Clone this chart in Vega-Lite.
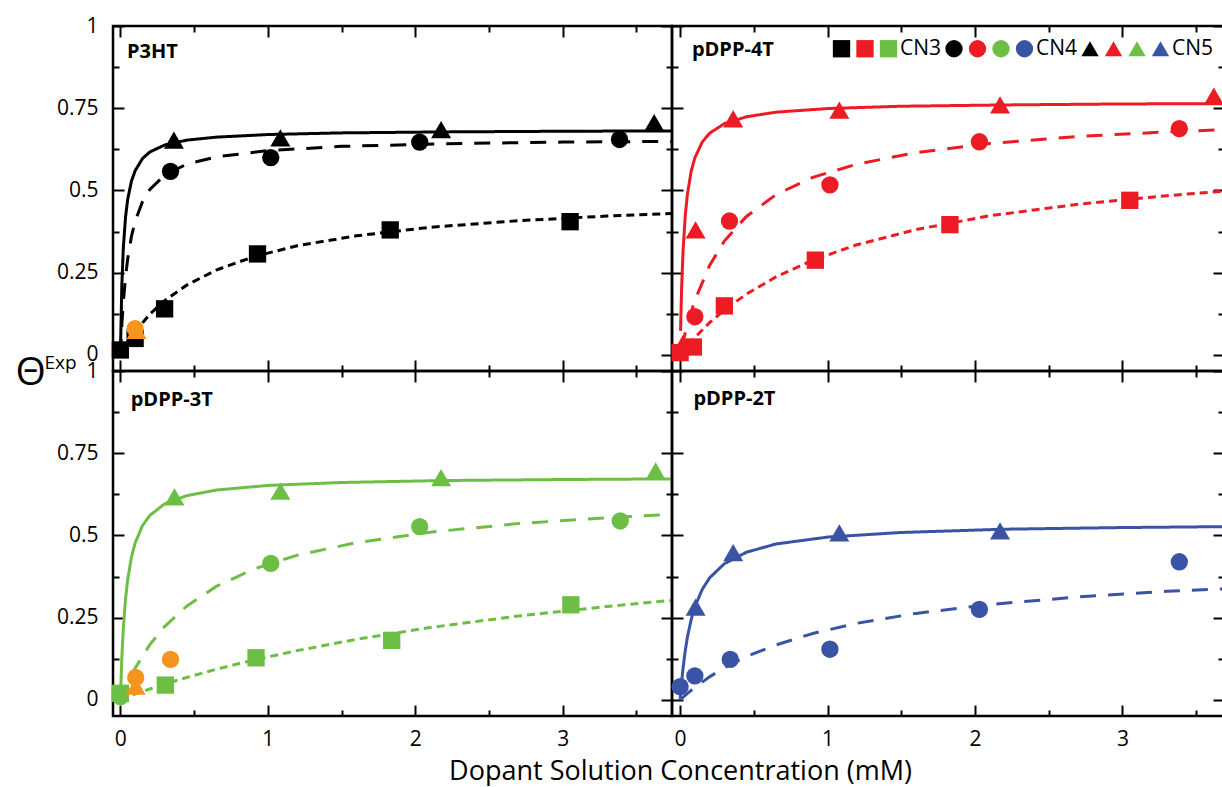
{
  "$schema": "https://vega.github.io/schema/vega-lite/v6.json",
  "background": "white",
  "padding": {"left": 13, "top": 13, "right": 0, "bottom": 0},
  "config": {
    "view": {"stroke": "black", "strokeWidth": 2.5},
    "font": "Open Sans",
    "axis": {"domain": false, "grid": false, "ticks": true, "tickColor": "black", "tickWidth": 2, "labelFont": "Open Sans", "labelFontSize": 21, "labelColor": "black", "labelOverlap": false, "labelFlush": false, "titleFont": "Open Sans", "titleColor": "black", "titleFontWeight": "normal"}
  },
  "datasets": {
    "curves": [
      {"p":"P3HT","cn":"CN5","c":0,"v":0},{"p":"P3HT","cn":"CN5","c":0.01,"v":0.213},{"p":"P3HT","cn":"CN5","c":0.02,"v":0.325},{"p":"P3HT","cn":"CN5","c":0.035,"v":0.419},{"p":"P3HT","cn":"CN5","c":0.05,"v":0.474},{"p":"P3HT","cn":"CN5","c":0.075,"v":0.528},{"p":"P3HT","cn":"CN5","c":0.1,"v":0.56},{"p":"P3HT","cn":"CN5","c":0.15,"v":0.597},{"p":"P3HT","cn":"CN5","c":0.2,"v":0.617},{"p":"P3HT","cn":"CN5","c":0.3,"v":0.638},{"p":"P3HT","cn":"CN5","c":0.45,"v":0.653},{"p":"P3HT","cn":"CN5","c":0.65,"v":0.662},{"p":"P3HT","cn":"CN5","c":1,"v":0.67},{"p":"P3HT","cn":"CN5","c":1.5,"v":0.675},{"p":"P3HT","cn":"CN5","c":2.2,"v":0.678},{"p":"P3HT","cn":"CN5","c":3,"v":0.68},{"p":"P3HT","cn":"CN5","c":3.75,"v":0.681},
      {"p":"P3HT","cn":"CN4","c":0,"v":0},{"p":"P3HT","cn":"CN4","c":0.01,"v":0.091},{"p":"P3HT","cn":"CN4","c":0.02,"v":0.16},{"p":"P3HT","cn":"CN4","c":0.035,"v":0.237},{"p":"P3HT","cn":"CN4","c":0.05,"v":0.293},{"p":"P3HT","cn":"CN4","c":0.075,"v":0.36},{"p":"P3HT","cn":"CN4","c":0.1,"v":0.406},{"p":"P3HT","cn":"CN4","c":0.15,"v":0.466},{"p":"P3HT","cn":"CN4","c":0.2,"v":0.503},{"p":"P3HT","cn":"CN4","c":0.3,"v":0.546},{"p":"P3HT","cn":"CN4","c":0.45,"v":0.58},{"p":"P3HT","cn":"CN4","c":0.65,"v":0.602},{"p":"P3HT","cn":"CN4","c":1,"v":0.621},{"p":"P3HT","cn":"CN4","c":1.5,"v":0.634},{"p":"P3HT","cn":"CN4","c":2.2,"v":0.642},{"p":"P3HT","cn":"CN4","c":3,"v":0.647},{"p":"P3HT","cn":"CN4","c":3.75,"v":0.649},
      {"p":"P3HT","cn":"CN3","c":0,"v":0},{"p":"P3HT","cn":"CN3","c":0.05,"v":0.038},{"p":"P3HT","cn":"CN3","c":0.1,"v":0.07},{"p":"P3HT","cn":"CN3","c":0.2,"v":0.124},{"p":"P3HT","cn":"CN3","c":0.3,"v":0.165},{"p":"P3HT","cn":"CN3","c":0.45,"v":0.212},{"p":"P3HT","cn":"CN3","c":0.65,"v":0.258},{"p":"P3HT","cn":"CN3","c":0.9,"v":0.298},{"p":"P3HT","cn":"CN3","c":1.2,"v":0.332},{"p":"P3HT","cn":"CN3","c":1.6,"v":0.362},{"p":"P3HT","cn":"CN3","c":2.1,"v":0.388},{"p":"P3HT","cn":"CN3","c":2.7,"v":0.408},{"p":"P3HT","cn":"CN3","c":3.3,"v":0.422},{"p":"P3HT","cn":"CN3","c":3.75,"v":0.43},
      {"p":"pDPP-4T","cn":"CN5","c":0.003,"v":0.073},{"p":"pDPP-4T","cn":"CN5","c":0.01,"v":0.2},{"p":"pDPP-4T","cn":"CN5","c":0.02,"v":0.317},{"p":"pDPP-4T","cn":"CN5","c":0.035,"v":0.424},{"p":"pDPP-4T","cn":"CN5","c":0.05,"v":0.49},{"p":"pDPP-4T","cn":"CN5","c":0.075,"v":0.558},{"p":"pDPP-4T","cn":"CN5","c":0.1,"v":0.599},{"p":"pDPP-4T","cn":"CN5","c":0.15,"v":0.647},{"p":"pDPP-4T","cn":"CN5","c":0.2,"v":0.674},{"p":"pDPP-4T","cn":"CN5","c":0.3,"v":0.703},{"p":"pDPP-4T","cn":"CN5","c":0.45,"v":0.724},{"p":"pDPP-4T","cn":"CN5","c":0.65,"v":0.738},{"p":"pDPP-4T","cn":"CN5","c":1,"v":0.749},{"p":"pDPP-4T","cn":"CN5","c":1.5,"v":0.756},{"p":"pDPP-4T","cn":"CN5","c":2.2,"v":0.76},{"p":"pDPP-4T","cn":"CN5","c":3,"v":0.763},{"p":"pDPP-4T","cn":"CN5","c":3.75,"v":0.764},
      {"p":"pDPP-4T","cn":"CN4","c":0.01,"v":0.021},{"p":"pDPP-4T","cn":"CN4","c":0.02,"v":0.04},{"p":"pDPP-4T","cn":"CN4","c":0.05,"v":0.094},{"p":"pDPP-4T","cn":"CN4","c":0.1,"v":0.166},{"p":"pDPP-4T","cn":"CN4","c":0.2,"v":0.272},{"p":"pDPP-4T","cn":"CN4","c":0.3,"v":0.346},{"p":"pDPP-4T","cn":"CN4","c":0.45,"v":0.421},{"p":"pDPP-4T","cn":"CN4","c":0.65,"v":0.487},{"p":"pDPP-4T","cn":"CN4","c":0.9,"v":0.54},{"p":"pDPP-4T","cn":"CN4","c":1.2,"v":0.58},{"p":"pDPP-4T","cn":"CN4","c":1.6,"v":0.615},{"p":"pDPP-4T","cn":"CN4","c":2.1,"v":0.643},{"p":"pDPP-4T","cn":"CN4","c":2.7,"v":0.664},{"p":"pDPP-4T","cn":"CN4","c":3.3,"v":0.678},{"p":"pDPP-4T","cn":"CN4","c":3.75,"v":0.686},
      {"p":"pDPP-4T","cn":"CN3","c":0,"v":0},{"p":"pDPP-4T","cn":"CN3","c":0.05,"v":0.028},{"p":"pDPP-4T","cn":"CN3","c":0.1,"v":0.053},{"p":"pDPP-4T","cn":"CN3","c":0.2,"v":0.098},{"p":"pDPP-4T","cn":"CN3","c":0.3,"v":0.136},{"p":"pDPP-4T","cn":"CN3","c":0.45,"v":0.185},{"p":"pDPP-4T","cn":"CN3","c":0.65,"v":0.237},{"p":"pDPP-4T","cn":"CN3","c":0.9,"v":0.288},{"p":"pDPP-4T","cn":"CN3","c":1.2,"v":0.335},{"p":"pDPP-4T","cn":"CN3","c":1.6,"v":0.381},{"p":"pDPP-4T","cn":"CN3","c":2.1,"v":0.423},{"p":"pDPP-4T","cn":"CN3","c":2.7,"v":0.458},{"p":"pDPP-4T","cn":"CN3","c":3.3,"v":0.484},{"p":"pDPP-4T","cn":"CN3","c":3.75,"v":0.5},
      {"p":"pDPP-3T","cn":"CN5","c":0,"v":0},{"p":"pDPP-3T","cn":"CN5","c":0.01,"v":0.129},{"p":"pDPP-3T","cn":"CN5","c":0.02,"v":0.217},{"p":"pDPP-3T","cn":"CN5","c":0.035,"v":0.307},{"p":"pDPP-3T","cn":"CN5","c":0.05,"v":0.367},{"p":"pDPP-3T","cn":"CN5","c":0.075,"v":0.434},{"p":"pDPP-3T","cn":"CN5","c":0.1,"v":0.477},{"p":"pDPP-3T","cn":"CN5","c":0.15,"v":0.53},{"p":"pDPP-3T","cn":"CN5","c":0.2,"v":0.561},{"p":"pDPP-3T","cn":"CN5","c":0.3,"v":0.596},{"p":"pDPP-3T","cn":"CN5","c":0.45,"v":0.621},{"p":"pDPP-3T","cn":"CN5","c":0.65,"v":0.638},{"p":"pDPP-3T","cn":"CN5","c":1,"v":0.652},{"p":"pDPP-3T","cn":"CN5","c":1.5,"v":0.661},{"p":"pDPP-3T","cn":"CN5","c":2.2,"v":0.667},{"p":"pDPP-3T","cn":"CN5","c":3,"v":0.67},{"p":"pDPP-3T","cn":"CN5","c":3.75,"v":0.672},
      {"p":"pDPP-3T","cn":"CN4","c":0,"v":0},{"p":"pDPP-3T","cn":"CN4","c":0.05,"v":0.052},{"p":"pDPP-3T","cn":"CN4","c":0.1,"v":0.096},{"p":"pDPP-3T","cn":"CN4","c":0.2,"v":0.168},{"p":"pDPP-3T","cn":"CN4","c":0.3,"v":0.223},{"p":"pDPP-3T","cn":"CN4","c":0.45,"v":0.285},{"p":"pDPP-3T","cn":"CN4","c":0.65,"v":0.345},{"p":"pDPP-3T","cn":"CN4","c":0.9,"v":0.397},{"p":"pDPP-3T","cn":"CN4","c":1.2,"v":0.44},{"p":"pDPP-3T","cn":"CN4","c":1.6,"v":0.478},{"p":"pDPP-3T","cn":"CN4","c":2.1,"v":0.51},{"p":"pDPP-3T","cn":"CN4","c":2.7,"v":0.536},{"p":"pDPP-3T","cn":"CN4","c":3.3,"v":0.554},{"p":"pDPP-3T","cn":"CN4","c":3.75,"v":0.564},
      {"p":"pDPP-3T","cn":"CN3","c":0,"v":0.003},{"p":"pDPP-3T","cn":"CN3","c":0.05,"v":0.01},{"p":"pDPP-3T","cn":"CN3","c":0.1,"v":0.018},{"p":"pDPP-3T","cn":"CN3","c":0.2,"v":0.033},{"p":"pDPP-3T","cn":"CN3","c":0.3,"v":0.048},{"p":"pDPP-3T","cn":"CN3","c":0.45,"v":0.068},{"p":"pDPP-3T","cn":"CN3","c":0.65,"v":0.093},{"p":"pDPP-3T","cn":"CN3","c":0.9,"v":0.121},{"p":"pDPP-3T","cn":"CN3","c":1.2,"v":0.15},{"p":"pDPP-3T","cn":"CN3","c":1.6,"v":0.184},{"p":"pDPP-3T","cn":"CN3","c":2.1,"v":0.22},{"p":"pDPP-3T","cn":"CN3","c":2.7,"v":0.255},{"p":"pDPP-3T","cn":"CN3","c":3.3,"v":0.284},{"p":"pDPP-3T","cn":"CN3","c":3.75,"v":0.303},
      {"p":"pDPP-2T","cn":"CN5","c":0,"v":0},{"p":"pDPP-2T","cn":"CN5","c":0.01,"v":0.054},{"p":"pDPP-2T","cn":"CN5","c":0.02,"v":0.097},{"p":"pDPP-2T","cn":"CN5","c":0.035,"v":0.15},{"p":"pDPP-2T","cn":"CN5","c":0.05,"v":0.192},{"p":"pDPP-2T","cn":"CN5","c":0.075,"v":0.244},{"p":"pDPP-2T","cn":"CN5","c":0.1,"v":0.283},{"p":"pDPP-2T","cn":"CN5","c":0.15,"v":0.336},{"p":"pDPP-2T","cn":"CN5","c":0.2,"v":0.371},{"p":"pDPP-2T","cn":"CN5","c":0.3,"v":0.414},{"p":"pDPP-2T","cn":"CN5","c":0.45,"v":0.449},{"p":"pDPP-2T","cn":"CN5","c":0.65,"v":0.474},{"p":"pDPP-2T","cn":"CN5","c":1,"v":0.495},{"p":"pDPP-2T","cn":"CN5","c":1.5,"v":0.509},{"p":"pDPP-2T","cn":"CN5","c":2.2,"v":0.519},{"p":"pDPP-2T","cn":"CN5","c":3,"v":0.524},{"p":"pDPP-2T","cn":"CN5","c":3.75,"v":0.527},
      {"p":"pDPP-2T","cn":"CN4","c":0,"v":0},{"p":"pDPP-2T","cn":"CN4","c":0.05,"v":0.02},{"p":"pDPP-2T","cn":"CN4","c":0.1,"v":0.038},{"p":"pDPP-2T","cn":"CN4","c":0.2,"v":0.07},{"p":"pDPP-2T","cn":"CN4","c":0.3,"v":0.098},{"p":"pDPP-2T","cn":"CN4","c":0.45,"v":0.132},{"p":"pDPP-2T","cn":"CN4","c":0.65,"v":0.167},{"p":"pDPP-2T","cn":"CN4","c":0.9,"v":0.202},{"p":"pDPP-2T","cn":"CN4","c":1.2,"v":0.233},{"p":"pDPP-2T","cn":"CN4","c":1.6,"v":0.263},{"p":"pDPP-2T","cn":"CN4","c":2.1,"v":0.29},{"p":"pDPP-2T","cn":"CN4","c":2.7,"v":0.313},{"p":"pDPP-2T","cn":"CN4","c":3.3,"v":0.33},{"p":"pDPP-2T","cn":"CN4","c":3.75,"v":0.339}
    ],
    "pts": [
      {"p":"P3HT","cn":"CN3","s":"P3HT CN3","c":0,"v":0.015},{"p":"P3HT","cn":"CN3","s":"P3HT CN3","c":0.1,"v":0.05},{"p":"P3HT","cn":"CN3","s":"P3HT CN3","c":0.3,"v":0.14},{"p":"P3HT","cn":"CN3","s":"P3HT CN3","c":0.93,"v":0.307},{"p":"P3HT","cn":"CN3","s":"P3HT CN3","c":1.83,"v":0.38},{"p":"P3HT","cn":"CN3","s":"P3HT CN3","c":3.05,"v":0.405},
      {"p":"P3HT","cn":"CN4","s":"P3HT CN4","c":0.34,"v":0.558},{"p":"P3HT","cn":"CN4","s":"P3HT CN4","c":1.02,"v":0.6},{"p":"P3HT","cn":"CN4","s":"P3HT CN4","c":2.03,"v":0.647},{"p":"P3HT","cn":"CN4","s":"P3HT CN4","c":3.385,"v":0.655},
      {"p":"P3HT","cn":"CN5","s":"P3HT CN5","c":0.363,"v":0.653},{"p":"P3HT","cn":"CN5","s":"P3HT CN5","c":1.085,"v":0.66},{"p":"P3HT","cn":"CN5","s":"P3HT CN5","c":2.175,"v":0.685},{"p":"P3HT","cn":"CN5","s":"P3HT CN5","c":3.62,"v":0.706},
      {"p":"P3HT","cn":"CN5","s":"Ref CN5","c":0.11,"v":0.075},{"p":"P3HT","cn":"CN4","s":"Ref CN4","c":0.1,"v":0.08},
      {"p":"pDPP-4T","cn":"CN5","s":"pDPP-4T CN5","c":0.02,"v":0.035},
      {"p":"pDPP-4T","cn":"CN3","s":"pDPP-4T CN3","c":0,"v":0.007},{"p":"pDPP-4T","cn":"CN3","s":"pDPP-4T CN3","c":0.09,"v":0.024},{"p":"pDPP-4T","cn":"CN3","s":"pDPP-4T CN3","c":0.3,"v":0.149},{"p":"pDPP-4T","cn":"CN3","s":"pDPP-4T CN3","c":0.917,"v":0.288},{"p":"pDPP-4T","cn":"CN3","s":"pDPP-4T CN3","c":1.83,"v":0.396},{"p":"pDPP-4T","cn":"CN3","s":"pDPP-4T CN3","c":3.05,"v":0.47},
      {"p":"pDPP-4T","cn":"CN4","s":"pDPP-4T CN4","c":0.1,"v":0.116},{"p":"pDPP-4T","cn":"CN4","s":"pDPP-4T CN4","c":0.335,"v":0.407},{"p":"pDPP-4T","cn":"CN4","s":"pDPP-4T CN4","c":1.016,"v":0.517},{"p":"pDPP-4T","cn":"CN4","s":"pDPP-4T CN4","c":2.03,"v":0.648},{"p":"pDPP-4T","cn":"CN4","s":"pDPP-4T CN4","c":3.386,"v":0.688},
      {"p":"pDPP-4T","cn":"CN5","s":"pDPP-4T CN5","c":0.105,"v":0.38},{"p":"pDPP-4T","cn":"CN5","s":"pDPP-4T CN5","c":0.36,"v":0.718},{"p":"pDPP-4T","cn":"CN5","s":"pDPP-4T CN5","c":1.08,"v":0.744},{"p":"pDPP-4T","cn":"CN5","s":"pDPP-4T CN5","c":2.17,"v":0.76},{"p":"pDPP-4T","cn":"CN5","s":"pDPP-4T CN5","c":3.62,"v":0.787},
      {"p":"pDPP-3T","cn":"CN4","s":"pDPP-3T CN4","c":0,"v":0.01},
      {"p":"pDPP-3T","cn":"CN3","s":"pDPP-3T CN3","c":0,"v":0.02},{"p":"pDPP-3T","cn":"CN3","s":"pDPP-3T CN3","c":0.305,"v":0.045},{"p":"pDPP-3T","cn":"CN3","s":"pDPP-3T CN3","c":0.92,"v":0.128},{"p":"pDPP-3T","cn":"CN3","s":"pDPP-3T CN3","c":1.84,"v":0.181},{"p":"pDPP-3T","cn":"CN3","s":"pDPP-3T CN3","c":3.055,"v":0.289},
      {"p":"pDPP-3T","cn":"CN4","s":"pDPP-3T CN4","c":1.02,"v":0.415},{"p":"pDPP-3T","cn":"CN4","s":"pDPP-3T CN4","c":2.03,"v":0.527},{"p":"pDPP-3T","cn":"CN4","s":"pDPP-3T CN4","c":3.39,"v":0.544},
      {"p":"pDPP-3T","cn":"CN5","s":"pDPP-3T CN5","c":0.367,"v":0.617},{"p":"pDPP-3T","cn":"CN5","s":"pDPP-3T CN5","c":1.085,"v":0.635},{"p":"pDPP-3T","cn":"CN5","s":"pDPP-3T CN5","c":2.175,"v":0.676},{"p":"pDPP-3T","cn":"CN5","s":"pDPP-3T CN5","c":3.63,"v":0.696},
      {"p":"pDPP-3T","cn":"CN5","s":"Ref CN5","c":0.104,"v":0.042},{"p":"pDPP-3T","cn":"CN4","s":"Ref CN4","c":0.104,"v":0.068},{"p":"pDPP-3T","cn":"CN4","s":"Ref CN4","c":0.34,"v":0.123},
      {"p":"pDPP-2T","cn":"CN4","s":"pDPP-2T CN4","c":0,"v":0.04},{"p":"pDPP-2T","cn":"CN4","s":"pDPP-2T CN4","c":0.1,"v":0.073},{"p":"pDPP-2T","cn":"CN4","s":"pDPP-2T CN4","c":0.34,"v":0.123},{"p":"pDPP-2T","cn":"CN4","s":"pDPP-2T CN4","c":1.016,"v":0.154},{"p":"pDPP-2T","cn":"CN4","s":"pDPP-2T CN4","c":2.03,"v":0.275},{"p":"pDPP-2T","cn":"CN4","s":"pDPP-2T CN4","c":3.386,"v":0.42},
      {"p":"pDPP-2T","cn":"CN5","s":"pDPP-2T CN5","c":0.105,"v":0.282},{"p":"pDPP-2T","cn":"CN5","s":"pDPP-2T CN5","c":0.36,"v":0.448},{"p":"pDPP-2T","cn":"CN5","s":"pDPP-2T CN5","c":1.08,"v":0.508},{"p":"pDPP-2T","cn":"CN5","s":"pDPP-2T CN5","c":2.17,"v":0.514}
    ]
  },
  "columns": 2,
  "spacing": 0,
  "bounds": "flush",
  "resolve": {"scale": {"fill": "independent", "shape": "independent"}},
  "concat": [
    {
      "width": 559, "height": 345,
      "layer": [
        {"data": {"name": "curves"}, "transform": [{"filter": "datum.p === 'P3HT'"}],
         "mark": {"type": "line", "strokeWidth": 3, "clip": true},
         "encoding": {
           "x": {"field": "c", "type": "quantitative", "scale": {"domain": [-0.05, 3.741], "nice": false, "zero": false},
                 "axis": {"orient": "bottom", "values": [0,0.5,1,1.5,2,2.5,3,3.5], "tickSize": {"condition": {"test": "datum.value % 1 === 0", "value": -11}, "value": -6}, "labels": false, "title": null}},
           "y": {"field": "v", "type": "quantitative", "scale": {"domain": [-0.049, 1], "nice": false, "zero": false},
                 "axis": {"orient": "left", "values": [0,0.125,0.25,0.375,0.5,0.625,0.75,0.875,1], "tickSize": {"condition": {"test": "datum.value % 0.25 === 0", "value": -11}, "value": -6}, "labels": true, "labelExpr": "datum.value % 0.25 === 0 ? format(datum.value, '~g') : ''", "labelPadding": 26,
                          "title": "Θ", "titleAngle": 0, "titleAlign": "left", "titleBaseline": "alphabetic", "titleX": -98, "titleY": 358, "titleFontSize": 39}},
           "stroke": {"field": "p", "type": "nominal", "scale": {"domain": ["P3HT","pDPP-4T","pDPP-3T","pDPP-2T"], "range": ["#000000","#ED1C24","#6CBE45","#3A53A4"]}, "legend": null},
           "strokeDash": {"field": "cn", "type": "nominal", "scale": {"domain": ["CN3","CN4","CN5"], "range": [[8,5],[16,12],[1,0]]}, "legend": null}
         }},
        {"data": {"name": "pts"}, "transform": [{"filter": "datum.p === 'P3HT'"}],
         "mark": {"type": "point", "filled": true, "opacity": 1, "strokeWidth": 0},
         "encoding": {
           "x": {"field": "c", "type": "quantitative", "scale": {"domain": [-0.05, 3.741], "nice": false, "zero": false},
                 "axis": {"orient": "top", "values": [0,0.5,1,1.5,2,2.5,3,3.5], "tickSize": {"condition": {"test": "datum.value % 1 === 0", "value": -11}, "value": -6}, "labels": false, "title": null}},
           "y": {"field": "v", "type": "quantitative", "scale": {"domain": [-0.049, 1], "nice": false, "zero": false},
                 "axis": {"orient": "right", "values": [0,0.125,0.25,0.375,0.5,0.625,0.75,0.875,1], "tickSize": {"condition": {"test": "datum.value % 0.25 === 0", "value": -11}, "value": -6}, "labels": false, "title": null}},
           "fill": {"field": "s", "type": "nominal", "scale": {"domain": ["P3HT CN3","pDPP-4T CN3","pDPP-3T CN3","P3HT CN4","pDPP-4T CN4","pDPP-3T CN4","pDPP-2T CN4","P3HT CN5","pDPP-4T CN5","pDPP-3T CN5","pDPP-2T CN5","Ref CN4","Ref CN5"], "range": ["#000000","#ED1C24","#6CBE45","#000000","#ED1C24","#6CBE45","#3A53A4","#000000","#ED1C24","#6CBE45","#3A53A4","#F7941D","#F7941D"]}, "legend": null},
           "shape": {"field": "s", "type": "nominal", "scale": {"domain": ["P3HT CN3","pDPP-4T CN3","pDPP-3T CN3","P3HT CN4","pDPP-4T CN4","pDPP-3T CN4","pDPP-2T CN4","P3HT CN5","pDPP-4T CN5","pDPP-3T CN5","pDPP-2T CN5","Ref CN4","Ref CN5"], "range": ["square","square","square","circle","circle","circle","circle","triangle-up","triangle-up","triangle-up","triangle-up","circle","triangle-up"]}, "legend": null},
           "size": {"condition": {"test": "datum.cn === 'CN5'", "value": 400}, "value": 300}
         }},
        {"data": {"values": [{"name": "P3HT"}]},
         "mark": {"type": "text", "align": "left", "baseline": "middle", "fontWeight": "bold", "fontSize": 20, "font": "Open Sans", "color": "black"},
         "encoding": {"text": {"field": "name"},
           "x": {"datum": 0.045, "type": "quantitative", "scale": {"domain": [-0.05, 3.741], "nice": false, "zero": false}, "axis": null},
           "y": {"datum": 0.922, "type": "quantitative", "scale": {"domain": [-0.049, 1], "nice": false, "zero": false}, "axis": null}}}
      ],
      "resolve": {"axis": {"x": "independent", "y": "independent"}}
    },
    {
      "width": 552, "height": 345,
      "layer": [
        {"data": {"name": "curves"}, "transform": [{"filter": "datum.p === 'pDPP-4T'"}],
         "mark": {"type": "line", "strokeWidth": 3, "clip": true},
         "encoding": {
           "x": {"field": "c", "type": "quantitative", "scale": {"domain": [-0.055, 3.689], "nice": false, "zero": false},
                 "axis": {"orient": "bottom", "values": [0,0.5,1,1.5,2,2.5,3,3.5], "tickSize": {"condition": {"test": "datum.value % 1 === 0", "value": -11}, "value": -6}, "labels": false, "title": null}},
           "y": {"field": "v", "type": "quantitative", "scale": {"domain": [-0.049, 1], "nice": false, "zero": false},
                 "axis": {"orient": "left", "values": [0,0.125,0.25,0.375,0.5,0.625,0.75,0.875,1], "tickSize": {"condition": {"test": "datum.value % 0.25 === 0", "value": -11}, "value": -6}, "labels": false, "title": null}},
           "stroke": {"field": "p", "type": "nominal", "scale": {"domain": ["P3HT","pDPP-4T","pDPP-3T","pDPP-2T"], "range": ["#000000","#ED1C24","#6CBE45","#3A53A4"]}, "legend": null},
           "strokeDash": {"field": "cn", "type": "nominal", "scale": {"domain": ["CN3","CN4","CN5"], "range": [[8,5],[16,12],[1,0]]}, "legend": null}
         }},
        {"data": {"name": "pts"}, "transform": [{"filter": "datum.p === 'pDPP-4T'"}],
         "mark": {"type": "point", "filled": true, "opacity": 1, "strokeWidth": 0},
         "encoding": {
           "x": {"field": "c", "type": "quantitative", "scale": {"domain": [-0.055, 3.689], "nice": false, "zero": false},
                 "axis": {"orient": "top", "values": [0,0.5,1,1.5,2,2.5,3,3.5], "tickSize": {"condition": {"test": "datum.value % 1 === 0", "value": -11}, "value": -6}, "labels": false, "title": null}},
           "y": {"field": "v", "type": "quantitative", "scale": {"domain": [-0.049, 1], "nice": false, "zero": false},
                 "axis": {"orient": "right", "values": [0,0.125,0.25,0.375,0.5,0.625,0.75,0.875,1], "tickSize": {"condition": {"test": "datum.value % 0.25 === 0", "value": -11}, "value": -6}, "labels": false, "title": null}},
           "fill": {"field": "s", "type": "nominal", "scale": {"domain": ["P3HT CN3","pDPP-4T CN3","pDPP-3T CN3","P3HT CN4","pDPP-4T CN4","pDPP-3T CN4","pDPP-2T CN4","P3HT CN5","pDPP-4T CN5","pDPP-3T CN5","pDPP-2T CN5","Ref CN4","Ref CN5"], "range": ["#000000","#ED1C24","#6CBE45","#000000","#ED1C24","#6CBE45","#3A53A4","#000000","#ED1C24","#6CBE45","#3A53A4","#F7941D","#F7941D"]},
                    "legend": {"orient": "none", "legendX": 159, "legendY": 12, "direction": "horizontal", "title": null, "values": ["P3HT CN3","pDPP-4T CN3","pDPP-3T CN3","P3HT CN4","pDPP-4T CN4","pDPP-3T CN4","pDPP-2T CN4","P3HT CN5","pDPP-4T CN5","pDPP-3T CN5","pDPP-2T CN5"], "labelExpr": "datum.value === 'pDPP-3T CN3' ? 'CN3' : datum.value === 'pDPP-2T CN4' ? 'CN4' : datum.value === 'pDPP-2T CN5' ? 'CN5' : ''", "labelFont": "Open Sans", "labelFontSize": 21, "labelColor": "black", "labelOffset": 1, "columnPadding": 1.5, "symbolSize": 300, "symbolStrokeWidth": 0, "symbolOpacity": 1, "padding": 0}},
           "shape": {"field": "s", "type": "nominal", "scale": {"domain": ["P3HT CN3","pDPP-4T CN3","pDPP-3T CN3","P3HT CN4","pDPP-4T CN4","pDPP-3T CN4","pDPP-2T CN4","P3HT CN5","pDPP-4T CN5","pDPP-3T CN5","pDPP-2T CN5","Ref CN4","Ref CN5"], "range": ["square","square","square","circle","circle","circle","circle","triangle-up","triangle-up","triangle-up","triangle-up","circle","triangle-up"]},
                    "legend": {"orient": "none", "legendX": 159, "legendY": 12, "direction": "horizontal", "title": null, "values": ["P3HT CN3","pDPP-4T CN3","pDPP-3T CN3","P3HT CN4","pDPP-4T CN4","pDPP-3T CN4","pDPP-2T CN4","P3HT CN5","pDPP-4T CN5","pDPP-3T CN5","pDPP-2T CN5"], "labelExpr": "datum.value === 'pDPP-3T CN3' ? 'CN3' : datum.value === 'pDPP-2T CN4' ? 'CN4' : datum.value === 'pDPP-2T CN5' ? 'CN5' : ''", "labelFont": "Open Sans", "labelFontSize": 21, "labelColor": "black", "labelOffset": 1, "columnPadding": 1.5, "symbolSize": 300, "symbolStrokeWidth": 0, "symbolOpacity": 1, "padding": 0}},
           "size": {"condition": {"test": "datum.cn === 'CN5'", "value": 400}, "value": 300}
         }},
        {"data": {"values": [{"name": "pDPP-4T"}]},
         "mark": {"type": "text", "align": "left", "baseline": "middle", "fontWeight": "bold", "fontSize": 20, "font": "Open Sans", "color": "black"},
         "encoding": {"text": {"field": "name"},
           "x": {"datum": 0.08, "type": "quantitative", "scale": {"domain": [-0.055, 3.689], "nice": false, "zero": false}, "axis": null},
           "y": {"datum": 0.928, "type": "quantitative", "scale": {"domain": [-0.049, 1], "nice": false, "zero": false}, "axis": null}}}
      ],
      "resolve": {"axis": {"x": "independent", "y": "independent"}}
    },
    {
      "width": 559, "height": 345,
      "layer": [
        {"data": {"name": "curves"}, "transform": [{"filter": "datum.p === 'pDPP-3T'"}],
         "mark": {"type": "line", "strokeWidth": 3, "clip": true},
         "encoding": {
           "x": {"field": "c", "type": "quantitative", "scale": {"domain": [-0.05, 3.741], "nice": false, "zero": false},
                 "axis": {"orient": "bottom", "values": [0,0.5,1,1.5,2,2.5,3,3.5], "tickSize": {"condition": {"test": "datum.value % 1 === 0", "value": -11}, "value": -6}, "labels": true, "labelExpr": "datum.value % 1 === 0 ? format(datum.value, '~g') : ''", "labelPadding": 23,
                          "title": "Dopant Solution Concentration (mM)", "titleAngle": 0, "titleAlign": "center", "titleBaseline": "alphabetic", "titleX": 567, "titleY": 63, "titleFontSize": 27}},
           "y": {"field": "v", "type": "quantitative", "scale": {"domain": [-0.049, 1], "nice": false, "zero": false},
                 "axis": {"orient": "left", "values": [0,0.125,0.25,0.375,0.5,0.625,0.75,0.875,1], "tickSize": {"condition": {"test": "datum.value % 0.25 === 0", "value": -11}, "value": -6}, "labels": true, "labelExpr": "datum.value % 0.25 === 0 ? format(datum.value, '~g') : ''", "labelPadding": 26,
                          "title": "Exp", "titleAngle": 0, "titleAlign": "left", "titleBaseline": "alphabetic", "titleX": -69, "titleY": -3, "titleFontSize": 19}},
           "stroke": {"field": "p", "type": "nominal", "scale": {"domain": ["P3HT","pDPP-4T","pDPP-3T","pDPP-2T"], "range": ["#000000","#ED1C24","#6CBE45","#3A53A4"]}, "legend": null},
           "strokeDash": {"field": "cn", "type": "nominal", "scale": {"domain": ["CN3","CN4","CN5"], "range": [[8,5],[16,12],[1,0]]}, "legend": null}
         }},
        {"data": {"name": "pts"}, "transform": [{"filter": "datum.p === 'pDPP-3T'"}],
         "mark": {"type": "point", "filled": true, "opacity": 1, "strokeWidth": 0},
         "encoding": {
           "x": {"field": "c", "type": "quantitative", "scale": {"domain": [-0.05, 3.741], "nice": false, "zero": false},
                 "axis": {"orient": "top", "values": [0,0.5,1,1.5,2,2.5,3,3.5], "tickSize": {"condition": {"test": "datum.value % 1 === 0", "value": -11}, "value": -6}, "labels": false, "title": null}},
           "y": {"field": "v", "type": "quantitative", "scale": {"domain": [-0.049, 1], "nice": false, "zero": false},
                 "axis": {"orient": "right", "values": [0,0.125,0.25,0.375,0.5,0.625,0.75,0.875,1], "tickSize": {"condition": {"test": "datum.value % 0.25 === 0", "value": -11}, "value": -6}, "labels": false, "title": null}},
           "fill": {"field": "s", "type": "nominal", "scale": {"domain": ["P3HT CN3","pDPP-4T CN3","pDPP-3T CN3","P3HT CN4","pDPP-4T CN4","pDPP-3T CN4","pDPP-2T CN4","P3HT CN5","pDPP-4T CN5","pDPP-3T CN5","pDPP-2T CN5","Ref CN4","Ref CN5"], "range": ["#000000","#ED1C24","#6CBE45","#000000","#ED1C24","#6CBE45","#3A53A4","#000000","#ED1C24","#6CBE45","#3A53A4","#F7941D","#F7941D"]}, "legend": null},
           "shape": {"field": "s", "type": "nominal", "scale": {"domain": ["P3HT CN3","pDPP-4T CN3","pDPP-3T CN3","P3HT CN4","pDPP-4T CN4","pDPP-3T CN4","pDPP-2T CN4","P3HT CN5","pDPP-4T CN5","pDPP-3T CN5","pDPP-2T CN5","Ref CN4","Ref CN5"], "range": ["square","square","square","circle","circle","circle","circle","triangle-up","triangle-up","triangle-up","triangle-up","circle","triangle-up"]}, "legend": null},
           "size": {"condition": {"test": "datum.cn === 'CN5'", "value": 400}, "value": 300}
         }},
        {"data": {"values": [{"name": "pDPP-3T"}]},
         "mark": {"type": "text", "align": "left", "baseline": "middle", "fontWeight": "bold", "fontSize": 20, "font": "Open Sans", "color": "black"},
         "encoding": {"text": {"field": "name"},
           "x": {"datum": 0.07, "type": "quantitative", "scale": {"domain": [-0.05, 3.741], "nice": false, "zero": false}, "axis": null},
           "y": {"datum": 0.912, "type": "quantitative", "scale": {"domain": [-0.049, 1], "nice": false, "zero": false}, "axis": null}}}
      ],
      "resolve": {"axis": {"x": "independent", "y": "independent"}}
    },
    {
      "width": 552, "height": 345,
      "layer": [
        {"data": {"name": "curves"}, "transform": [{"filter": "datum.p === 'pDPP-2T'"}],
         "mark": {"type": "line", "strokeWidth": 3, "clip": true},
         "encoding": {
           "x": {"field": "c", "type": "quantitative", "scale": {"domain": [-0.055, 3.689], "nice": false, "zero": false},
                 "axis": {"orient": "bottom", "values": [0,0.5,1,1.5,2,2.5,3,3.5], "tickSize": {"condition": {"test": "datum.value % 1 === 0", "value": -11}, "value": -6}, "labels": true, "labelExpr": "datum.value % 1 === 0 ? format(datum.value, '~g') : ''", "labelPadding": 23, "title": null}},
           "y": {"field": "v", "type": "quantitative", "scale": {"domain": [-0.049, 1], "nice": false, "zero": false},
                 "axis": {"orient": "left", "values": [0,0.125,0.25,0.375,0.5,0.625,0.75,0.875,1], "tickSize": {"condition": {"test": "datum.value % 0.25 === 0", "value": -11}, "value": -6}, "labels": false, "title": null}},
           "stroke": {"field": "p", "type": "nominal", "scale": {"domain": ["P3HT","pDPP-4T","pDPP-3T","pDPP-2T"], "range": ["#000000","#ED1C24","#6CBE45","#3A53A4"]}, "legend": null},
           "strokeDash": {"field": "cn", "type": "nominal", "scale": {"domain": ["CN3","CN4","CN5"], "range": [[8,5],[16,12],[1,0]]}, "legend": null}
         }},
        {"data": {"name": "pts"}, "transform": [{"filter": "datum.p === 'pDPP-2T'"}],
         "mark": {"type": "point", "filled": true, "opacity": 1, "strokeWidth": 0},
         "encoding": {
           "x": {"field": "c", "type": "quantitative", "scale": {"domain": [-0.055, 3.689], "nice": false, "zero": false},
                 "axis": {"orient": "top", "values": [0,0.5,1,1.5,2,2.5,3,3.5], "tickSize": {"condition": {"test": "datum.value % 1 === 0", "value": -11}, "value": -6}, "labels": false, "title": null}},
           "y": {"field": "v", "type": "quantitative", "scale": {"domain": [-0.049, 1], "nice": false, "zero": false},
                 "axis": {"orient": "right", "values": [0,0.125,0.25,0.375,0.5,0.625,0.75,0.875,1], "tickSize": {"condition": {"test": "datum.value % 0.25 === 0", "value": -11}, "value": -6}, "labels": false, "title": null}},
           "fill": {"field": "s", "type": "nominal", "scale": {"domain": ["P3HT CN3","pDPP-4T CN3","pDPP-3T CN3","P3HT CN4","pDPP-4T CN4","pDPP-3T CN4","pDPP-2T CN4","P3HT CN5","pDPP-4T CN5","pDPP-3T CN5","pDPP-2T CN5","Ref CN4","Ref CN5"], "range": ["#000000","#ED1C24","#6CBE45","#000000","#ED1C24","#6CBE45","#3A53A4","#000000","#ED1C24","#6CBE45","#3A53A4","#F7941D","#F7941D"]}, "legend": null},
           "shape": {"field": "s", "type": "nominal", "scale": {"domain": ["P3HT CN3","pDPP-4T CN3","pDPP-3T CN3","P3HT CN4","pDPP-4T CN4","pDPP-3T CN4","pDPP-2T CN4","P3HT CN5","pDPP-4T CN5","pDPP-3T CN5","pDPP-2T CN5","Ref CN4","Ref CN5"], "range": ["square","square","square","circle","circle","circle","circle","triangle-up","triangle-up","triangle-up","triangle-up","circle","triangle-up"]}, "legend": null},
           "size": {"condition": {"test": "datum.cn === 'CN5'", "value": 400}, "value": 300}
         }},
        {"data": {"values": [{"name": "pDPP-2T"}]},
         "mark": {"type": "text", "align": "left", "baseline": "middle", "fontWeight": "bold", "fontSize": 20, "font": "Open Sans", "color": "black"},
         "encoding": {"text": {"field": "name"},
           "x": {"datum": 0.09, "type": "quantitative", "scale": {"domain": [-0.055, 3.689], "nice": false, "zero": false}, "axis": null},
           "y": {"datum": 0.915, "type": "quantitative", "scale": {"domain": [-0.049, 1], "nice": false, "zero": false}, "axis": null}}}
      ],
      "resolve": {"axis": {"x": "independent", "y": "independent"}}
    }
  ]
}
